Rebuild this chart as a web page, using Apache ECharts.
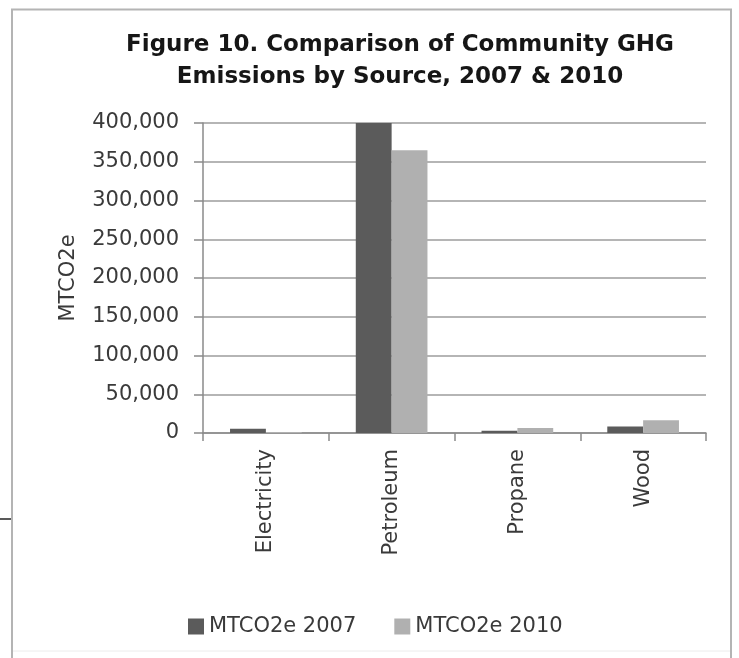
<!DOCTYPE html>
<html>
<head>
<meta charset="utf-8">
<script src="https://cdn.jsdelivr.net/npm/echarts@6/dist/echarts.min.js"></script>
<style>
html,body{margin:0;padding:0;background:#fff;}
#chart{width:739px;height:658px;}
</style>
</head>
<body>
<div id="chart"></div>
<script>
var categories = ['Electricity', 'Petroleum', 'Propane', 'Wood'];
var series2007 = [5500, 400000, 3000, 8500];
var series2010 = [1200, 365000, 6500, 16300];
var seriesNames = ['MTCO2e 2007', 'MTCO2e 2010'];
var titleText = 'Figure 10. Comparison of Community GHG\nEmissions by Source, 2007 & 2010';
var yAxisName = 'MTCO2e';

var FONT = 'DejaVu Sans';
var chart = echarts.init(document.getElementById('chart'), null, {renderer: 'canvas'});
chart.setOption({
  backgroundColor: '#ffffff',
  animation: false,
  title: {
    text: titleText,
    left: 395,
    top: 24,
    textAlign: 'center',
    textStyle: {fontFamily: FONT, fontWeight: 'bold', fontSize: 23, lineHeight: 32, color: '#161616'}
  },
  legend: {
    data: seriesNames,
    left: 183,
    top: 611,
    itemWidth: 16,
    itemHeight: 16,
    itemGap: 38,
    icon: 'rect',
    textStyle: {fontFamily: FONT, fontSize: 21, color: '#3a3a3a', padding: [0, 0, 0, 0]}
  },
  grid: {left: 203, right: 33, top: 123, bottom: 225, containLabel: false},
  xAxis: {
    type: 'category',
    data: categories,
    axisLine: {show: true, lineStyle: {color: '#8a8a8a', width: 1.5}},
    axisTick: {show: true, length: 8, lineStyle: {color: '#8a8a8a', width: 1.5}},
    axisLabel: {rotate: 90, margin: 16, fontFamily: FONT, fontSize: 21, color: '#3a3a3a'}
  },
  yAxis: {
    type: 'value',
    min: 0,
    max: 400000,
    interval: 50000,
    name: yAxisName,
    nameLocation: 'middle',
    nameRotate: 90,
    nameGap: 124,
    nameTextStyle: {fontFamily: FONT, fontSize: 21, color: '#3a3a3a'},
    axisLine: {show: true, lineStyle: {color: '#8a8a8a', width: 1.5}},
    axisTick: {show: true, length: 9, lineStyle: {color: '#8a8a8a', width: 1.5}},
    axisLabel: {
      margin: 24, fontFamily: FONT, fontSize: 21, color: '#3a3a3a',
      formatter: function (v) { return v.toLocaleString('en-US'); }
    },
    splitLine: {show: true, lineStyle: {color: '#9c9c9c', width: 1.5}}
  },
  series: [
    {name: seriesNames[0], type: 'bar', data: series2007, barGap: '0%', barCategoryGap: '43%',
     itemStyle: {color: '#5b5b5b'}},
    {name: seriesNames[1], type: 'bar', data: series2010, barGap: '0%', barCategoryGap: '43%',
     itemStyle: {color: '#b0b0b0'}}
  ],
  graphic: [
    {type: 'polyline', shape: {points: [[12, 658], [12, 9.5], [731, 9.5], [731, 658]]},
     style: {stroke: '#b4b4b4', lineWidth: 2, fill: null}, silent: true},
    {type: 'line', shape: {x1: 13, y1: 651, x2: 730, y2: 651},
     style: {stroke: '#ececec', lineWidth: 1}, silent: true},
    {type: 'line', shape: {x1: 0, y1: 519, x2: 11, y2: 519},
     style: {stroke: '#222222', lineWidth: 1.5}, silent: true}
  ]
});
</script>
</body>
</html>
